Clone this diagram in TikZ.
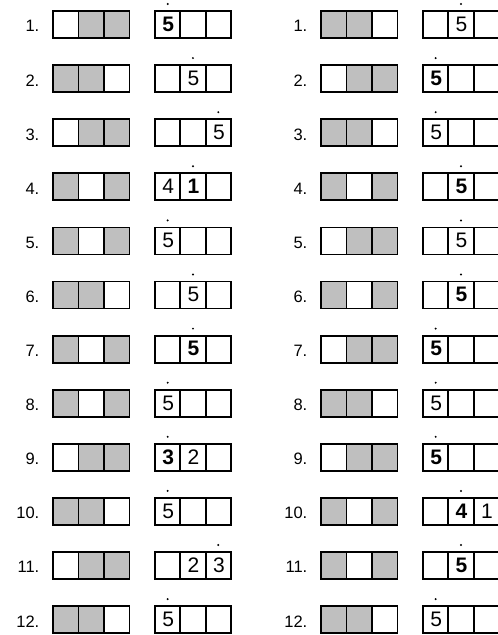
\documentclass[tikz,border=0pt]{standalone}
\usepackage{fontspec}
\setmainfont{Liberation Sans}
\definecolor{shG}{gray}{0.75}
\definecolor{shW}{gray}{1}
\tikzset{
  bx/.style={draw=black, line width=1.8pt},
  lbl/.style={anchor=base east, inner sep=0pt, font=\fontsize{16.5}{18}\selectfont},
  dg/.style={anchor=base, inner sep=0pt, font=\fontsize{21}{22}\selectfont},
  dotmark/.style={fill=black}
}
% #1 column (0/1), #2 row, #3-#5 fills (G/W), #6-#8 digits, #9 dotted cell
\newcommand\qrow[9]{%
  \pgfmathsetmacro\xo{268*#1}%
  \pgfmathsetmacro\yt{11+(#2-1)*54.1}%
  \begin{scope}[shift={(\xo,\yt)}]
    \node[lbl] (l#1r#2) at (39.5,20.9) {#2.};
    \fill[sh#3] (53,0) rectangle (78.5,27);
    \fill[sh#4] (78.5,0) rectangle (104,27);
    \fill[sh#5] (104,0) rectangle (129.5,27);
    \draw[bx] (53,0) rectangle (129.5,27) (78.5,0) -- (78.5,27) (104,0) -- (104,27);
    \draw[bx] (155,0) rectangle (231,27) (180.3,0) -- (180.3,27) (205.7,0) -- (205.7,27);
    \node[dg] (a#1r#2c1) at (168.2,20.3) {#6};
    \node[dg] (a#1r#2c2) at (193.5,20.3) {#7};
    \node[dg] (a#1r#2c3) at (218.9,20.3) {#8};
    \fill[dotmark] ({155+25.33*(#9-0.5)},-7) circle (1.1);
  \end{scope}%
}
\begin{document}
\begin{tikzpicture}[x=1pt,y=-1pt]
\clip (0,0) rectangle (498,635);
\fill[white] (0,0) rectangle (498,635);
% left column
\qrow{0}{1}{W}{G}{G}{\textbf{5}}{}{}{1}
\qrow{0}{2}{G}{G}{W}{}{5}{}{2}
\qrow{0}{3}{W}{G}{G}{}{}{5}{3}
\qrow{0}{4}{G}{W}{G}{4}{\textbf{1}}{}{2}
\qrow{0}{5}{G}{W}{G}{5}{}{}{1}
\qrow{0}{6}{G}{G}{W}{}{5}{}{2}
\qrow{0}{7}{G}{W}{G}{}{\textbf{5}}{}{2}
\qrow{0}{8}{G}{W}{G}{5}{}{}{1}
\qrow{0}{9}{W}{G}{G}{\textbf{3}}{2}{}{1}
\qrow{0}{10}{G}{G}{W}{5}{}{}{1}
\qrow{0}{11}{W}{G}{G}{}{2}{3}{3}
\qrow{0}{12}{G}{G}{W}{5}{}{}{1}
% right column
\qrow{1}{1}{G}{G}{W}{}{5}{}{2}
\qrow{1}{2}{W}{G}{G}{\textbf{5}}{}{}{1}
\qrow{1}{3}{G}{G}{W}{5}{}{}{1}
\qrow{1}{4}{G}{W}{G}{}{\textbf{5}}{}{2}
\qrow{1}{5}{W}{G}{G}{}{5}{}{2}
\qrow{1}{6}{G}{W}{G}{}{\textbf{5}}{}{2}
\qrow{1}{7}{W}{G}{G}{\textbf{5}}{}{}{1}
\qrow{1}{8}{G}{G}{W}{5}{}{}{1}
\qrow{1}{9}{W}{G}{G}{\textbf{5}}{}{}{1}
\qrow{1}{10}{G}{W}{G}{}{\textbf{4}}{1}{2}
\qrow{1}{11}{G}{W}{G}{}{\textbf{5}}{}{2}
\qrow{1}{12}{G}{G}{W}{5}{}{}{1}
\end{tikzpicture}
\end{document}
